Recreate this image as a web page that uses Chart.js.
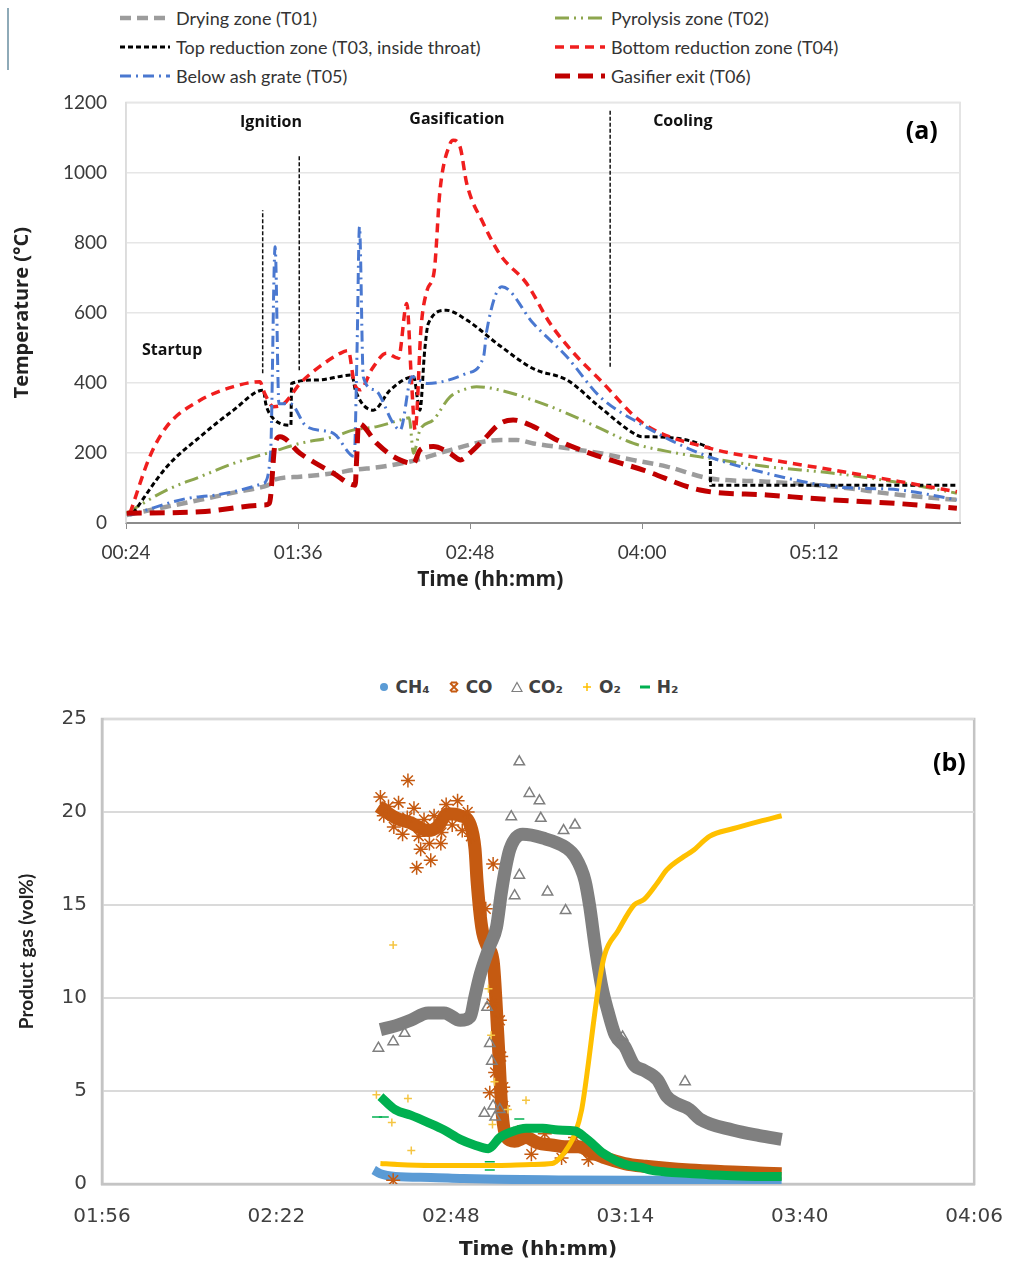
<!DOCTYPE html>
<html lang="en">
<head>
<meta charset="UTF-8" />
<title>Gasifier temperatures and product gas</title>
<script src="https://cdn.jsdelivr.net/npm/chart.js"></script>
<style>
  body { margin: 0; background: #fff; font-family: 'Lato', sans-serif; }
  #page { position: relative; width: 1024px; height: 1268px; overflow: hidden; background: #fff; }
  canvas { position: absolute; left: 0; }
  #legendA { position: absolute; left: 118px; top: 3px; display: grid; grid-template-columns: 435px auto; grid-auto-rows: 29px; }
  #legendA .item { display: flex; align-items: center; font-size: 18px; color: #333; white-space: nowrap; }
  #legendA svg { margin-right: 4px; }
  #legendB { position: absolute; left: 0; width: 1058px; top: 676px; height: 22px; display: flex; justify-content: center; align-items: center; }
  #legendB .item { display: flex; align-items: center; font: bold 17px 'DejaVu Sans', sans-serif; color: #404040; margin: 0 9px; }
  #legendB svg { margin-right: 6px; }
  #edge { position: absolute; left: 7px; top: 8px; width: 1.5px; height: 62px; background: #8eaab8; }
</style>
</head>
<body>
<div id="page">
  <div id="edge"></div>
  <div id="legendA"></div>
  <canvas id="chartA" width="1000" height="538" style="top:72px"></canvas>
  <div id="legendB"></div>
  <canvas id="chartB" width="1024" height="618" style="top:650px"></canvas>
</div>

<script>
  // ---------- (a) temperatures, time in minutes ----------
  const tickLabelsA = ['00:24', '01:36', '02:48', '04:00', '05:12'];
  const seriesNamesA = ['Drying zone (T01)', 'Pyrolysis zone (T02)', 'Top reduction zone (T03, inside throat)',
    'Bottom reduction zone (T04)', 'Below ash grate (T05)', 'Gasifier exit (T06)'];

  const t01Min  = [24.3, 40, 55, 70, 81.5, 84, 86, 96.8, 110.8, 119, 131.7, 145.7, 159.6, 173.6, 181, 187.5, 194.5, 208, 222.4, 236, 250.3, 268.5, 292.2, 320, 348, 371.7];
  const t01Temp = [23, 45, 66, 88, 104, 110, 123, 132, 142, 151, 161, 180, 208, 232, 237, 237, 227, 214, 199, 180, 161, 127, 118, 104, 80, 66];

  const t02Min  = [24.3, 41, 55, 69, 83, 86, 96.8, 110.8, 119, 129, 138.7, 142.5, 144.3, 147, 152.6, 159.6, 166, 170.7, 180.6, 194.5, 208.5, 222.4, 236.4, 250, 264, 292, 320, 348, 371.7];
  const t02Temp = [28, 94, 132, 170, 199, 205, 227, 246, 265, 275, 294, 300, 199, 265, 294, 360, 382, 389, 379, 350, 313, 270, 227, 205, 189, 161, 142, 115, 85];

  const t03Min  = [27, 41, 55, 69, 81.5, 82.5, 84, 93, 93.3, 104, 118.5, 120, 127.5, 134.5, 144.3, 147, 149, 150.5, 158, 166.6, 180.6, 194.5, 208.5, 222.4, 236.4, 240, 268.5, 268.6, 371.7];
  const t03Temp = [28, 160, 246, 322, 379, 340, 313, 279, 398, 408, 422, 379, 322, 379, 417, 322, 493, 569, 607, 579, 505, 440, 408, 330, 256, 246, 213, 108, 108];

  const t04Min  = [25.7, 34, 41, 55, 69, 80, 82, 85.7, 90, 96.8, 105, 113.6, 117, 119.5, 122, 127, 133, 138, 141.5, 143.5, 145, 147.5, 150, 153, 155.4, 159.6, 161, 163.8, 166.6, 173.6, 180.6, 191.7, 201.5, 212, 222.4, 240.5, 268.5, 294, 320, 348, 371.7];
  const t04Temp = [28, 190, 275, 350, 389, 403, 370, 332, 340, 398, 446, 484, 492, 400, 380, 440, 484, 470, 626, 400, 265, 560, 664, 720, 949, 1082, 1092, 1073, 968, 854, 765, 683, 569, 480, 408, 284, 213, 180, 151, 118, 89];

  const t05Min  = [25.7, 55, 81.5, 84.5, 86.4, 88, 92.6, 99.6, 110.8, 119.5, 120.7, 121.7, 123.3, 128, 135.9, 138.7, 143.6, 150.2, 166.6, 173.6, 175, 181.3, 194.5, 208.5, 222.4, 239, 264, 292, 320, 348, 371.7];
  const t05Temp = [23, 75, 113, 200, 788, 340, 341, 275, 256, 190, 500, 845, 417, 380, 284, 265, 417, 398, 427, 474, 550, 674, 569, 474, 360, 284, 199, 142, 104, 94, 66];

  const t06Min  = [24.3, 55, 81.5, 84, 86.4, 88.5, 96.8, 110.8, 119.9, 120.5, 121.3, 129, 136, 144.3, 147, 152.6, 159.6, 164, 168, 173.6, 180.6, 186, 194.5, 204.3, 222.4, 240.5, 264.2, 292.2, 320, 348, 371.7];
  const t06Temp = [28, 32, 51, 56, 227, 246, 199, 142, 108, 180, 284, 227, 189, 170, 208, 218, 199, 180, 200, 237, 284, 294, 275, 237, 189, 151, 94, 80, 66, 55, 42];

  // phase boundaries drawn as dashed verticals
  const boundaryMin  = [81.2, 96.5, 226.6];
  const boundaryLow  = [427, 436, 446];
  const boundaryHigh = [892, 1049, 1177];
  const phaseNames = ['Startup', 'Ignition', 'Gasification', 'Cooling'];

  // ---------- (b) product gas, time in minutes ----------
  const tickLabelsB = ['01:56', '02:22', '02:48', '03:14', '03:40', '04:06'];
  const gasNames = ['CH\u2084', 'CO', 'CO\u2082', 'O\u2082', 'H\u2082'];

  const ch4Min = [156.5, 157.5, 159.7, 165, 169.4, 175, 184.1, 195, 203.6, 210, 217.3];
  const ch4Pct = [0.75, 0.55, 0.4, 0.35, 0.3, 0.25, 0.22, 0.2, 0.2, 0.15, 0.12];

  const coMin = [157.2, 159.7, 162.1, 164.6, 166, 167.5, 169.4, 170.9, 171.6, 171.9, 172.6, 173.4, 174.3, 175, 175.6, 176.3, 177.5, 179.2, 181, 183, 185, 187, 189, 191, 193.9, 197, 203.6, 210, 217.3];
  const coPct = [20.3, 19.7, 19.4, 19.0, 19.2, 19.9, 19.8, 19.3, 18.0, 16.3, 13.8, 12.8, 12.0, 8.0, 4.0, 2.5, 2.3, 2.5, 2.2, 2.1, 2.0, 2.0, 1.7, 1.4, 1.1, 0.95, 0.75, 0.65, 0.55];
  const coLooseMin = [161.6, 162.9, 165, 163.5, 166.5, 174.3, 173.2, 174.1, 175.3, 175.5, 175.8, 173.8, 175.8, 174.6, 159.4,
    157.5, 158, 158.7, 159.5, 160.2, 160.8, 161.5, 162.5, 163.2, 164, 164.8, 165.5, 166.6, 167.3, 168.2, 169, 169.7, 170.5, 171,
    178, 180, 182, 184.5, 186.5, 188.5];
  const coLoosePct = [21.7, 17.0, 17.4, 18.0, 18.3, 17.2, 14.8, 9.7, 8.8, 6.85, 5.2, 4.9, 4.2, 6.0, 0.2,
    20.8, 19.8, 20.3, 19.2, 20.5, 18.8, 19.7, 20.2, 18.7, 19.6, 18.3, 19.8, 18.9, 20.4, 19.3, 20.6, 19.0, 20.0, 18.7,
    2.8, 1.6, 2.7, 1.4, 2.5, 1.3];

  const co2Min = [157.5, 159.7, 162, 164.6, 167, 169.4, 170.9, 171.6, 172.4, 173.8, 174.8, 175.5, 176, 176.8, 178.7, 181.7, 185.1, 186.5, 188, 188.7, 189.5, 190.5, 191.4, 192.5, 193.9, 195.3, 196.8, 198.8, 200.2, 203.6, 205.1, 210, 214, 217.3];
  const co2Pct = [8.3, 8.5, 8.8, 9.2, 9.2, 8.8, 9.0, 10.1, 11.3, 12.8, 13.8, 15.6, 16.7, 18.0, 18.8, 18.6, 18.1, 17.6, 16.3, 14.9, 12.8, 10.6, 9.3, 8.0, 7.4, 6.4, 6.1, 5.6, 4.7, 4.0, 3.5, 2.9, 2.6, 2.4];
  const co2LooseMin = [157.2, 159.4, 161.1, 178.2, 179.7, 181.2, 177, 181.4, 186.5, 184.8, 178.2, 177.5, 182.4, 185.1, 173.4, 173.8, 174.1, 174.3, 175.3, 193.6, 202.9, 173, 174.6];
  const co2LoosePct = [7.3, 7.65, 8.1, 22.7, 21.0, 20.6, 19.75, 19.66, 19.3, 19.0, 16.6, 15.5, 15.7, 14.7, 9.5, 7.56, 6.6, 4.2, 4.0, 7.9, 5.5, 3.8, 3.6];

  const o2Min = [157.5, 160, 165, 169.4, 175, 180, 183.1, 184.5, 185.5, 186.5, 187.5, 188.5, 189.2, 190, 190.9, 192.9, 195.3, 196.8, 198.8, 200.2, 202.7, 204, 206.6, 210, 214, 217.3];
  const o2Pct = [1.1, 1.05, 1.0, 1.0, 1.0, 1.05, 1.1, 1.5, 2.0, 2.7, 4.0, 6.5, 8.5, 10.6, 12.3, 13.6, 15.0, 15.3, 16.2, 16.9, 17.6, 17.9, 18.7, 19.1, 19.5, 19.8];
  const o2LooseMin = [159.4, 156.9, 159.2, 161.6, 162.1, 173.6, 174.0, 174.5, 174.2, 179.2, 176.5];
  const o2LoosePct = [12.85, 4.8, 3.3, 4.6, 1.8, 10.5, 8.0, 5.5, 3.2, 4.5, 4.0];

  const h2Min = [157.5, 159.7, 162, 164.6, 167, 169.4, 171.5, 173.6, 175.3, 177, 179.2, 181.7, 184, 186.5, 188, 189, 190.5, 191.4, 192.9, 194.5, 196.3, 197.8, 200, 203.6, 207.6, 212, 217.3];
  const h2Pct = [4.7, 4.0, 3.7, 3.3, 2.9, 2.4, 2.1, 1.9, 2.5, 2.8, 3.0, 3.0, 2.9, 2.85, 2.5, 2.2, 1.7, 1.5, 1.2, 1.0, 0.9, 0.75, 0.65, 0.57, 0.48, 0.42, 0.4];
  const h2LooseMin = [157, 158, 173.8, 173.8, 178.2];
  const h2LoosePct = [3.6, 3.6, 0.75, 1.2, 3.5];

  // ---------- helpers ----------
  const toMin = s => { const [h, m] = s.split(':').map(Number); return h * 60 + m; };
  const pts = (xs, ys) => xs.map((x, i) => ({ x: x, y: ys[i] }));

  const styleA = [
    { color: '#9c9c9c', width: 4.5, dash: [11, 6] },
    { color: '#8da64e', width: 3, dash: [14, 5, 2, 5, 2, 5] },
    { color: '#000000', width: 3, dash: [5, 3] },
    { color: '#f01e1e', width: 3.5, dash: [9, 6] },
    { color: '#4a78d0', width: 3, dash: [11, 5, 2, 5] },
    { color: '#c00000', width: 5, dash: [15, 8] }
  ];
  const gasColors = ['#5b9bd5', '#c55a11', '#7f7f7f', '#ffc000', '#00b050'];

  // text drawn at data positions (phase names, panel letters, titles)
  const notesPlugin = {
    id: 'notes',
    afterDraw(chart, args, opts) {
      const { ctx, scales } = chart;
      ctx.save();
      ctx.textAlign = 'center';
      ctx.textBaseline = 'middle';
      (opts.items || []).forEach(it => {
        ctx.font = it.font;
        ctx.fillStyle = it.color || '#111';
        ctx.fillText(it.text, scales.x.getPixelForValue(it.x), scales.y.getPixelForValue(it.y));
      });
      ctx.restore();
    }
  };

  const framePlugin = {
    id: 'frame',
    beforeDraw(chart, args, opts) {
      const { ctx, chartArea: a } = chart;
      ctx.save();
      ctx.strokeStyle = opts.color;
      ctx.lineWidth = opts.width;
      ctx.strokeRect(a.left, a.top, a.right - a.left, a.bottom - a.top);
      ctx.restore();
    }
  };

  // ---------- legend (a) ----------
  const legendA = document.getElementById('legendA');
  seriesNamesA.forEach((name, i) => {
    const s = styleA[i];
    const div = document.createElement('div');
    div.className = 'item';
    div.innerHTML = `<svg width="54" height="12"><line x1="2" y1="6" x2="52" y2="6" stroke="${s.color}"
      stroke-width="${s.width}" stroke-dasharray="${s.dash.join(' ')}"/></svg><span>${name}</span>`;
    legendA.appendChild(div);
  });

  // ---------- legend (b) ----------
  const markerSvg = [
    `<svg width="10" height="10"><circle cx="5" cy="5" r="4" fill="${gasColors[0]}"/></svg>`,
    `<svg width="12" height="12"><path d="M2 2L10 10M10 2L2 10M3 1.5H9M3 10.5H9" stroke="${gasColors[1]}" stroke-width="1.8"/></svg>`,
    `<svg width="12" height="12"><polygon points="6,1.5 11,10.5 1,10.5" fill="none" stroke="${gasColors[2]}" stroke-width="1.2"/></svg>`,
    `<svg width="12" height="12"><path d="M6 2V10M2 6H10" stroke="${gasColors[3]}" stroke-width="1.5"/></svg>`,
    `<svg width="12" height="12"><rect x="1" y="4.5" width="10" height="3" fill="${gasColors[4]}"/></svg>`
  ];
  const legendB = document.getElementById('legendB');
  gasNames.forEach((name, i) => {
    const div = document.createElement('div');
    div.className = 'item';
    div.innerHTML = markerSvg[i] + `<span>${name}</span>`;
    legendB.appendChild(div);
  });

  // ---------- chart (a) ----------
  const seriesA = [[t01Min, t01Temp], [t02Min, t02Temp], [t03Min, t03Temp], [t04Min, t04Temp], [t05Min, t05Temp], [t06Min, t06Temp]];
  const tickMinA = tickLabelsA.map(toMin);

  const datasetsA = seriesA.map(([xs, ys], i) => ({
    label: seriesNamesA[i],
    data: pts(xs, ys),
    showLine: true,
    borderColor: styleA[i].color,
    borderWidth: styleA[i].width,
    borderDash: styleA[i].dash,
    pointRadius: 0,
    cubicInterpolationMode: 'monotone',
    order: 6 - i
  }));
  boundaryMin.forEach((m, i) => {
    datasetsA.push({
      label: 'boundary',
      data: pts([m, m], [boundaryLow[i], boundaryHigh[i]]),
      showLine: true,
      borderColor: '#111',
      borderWidth: 1.5,
      borderDash: [4, 2],
      pointRadius: 0,
      order: 20
    });
  });

  new Chart(document.getElementById('chartA'), {
    type: 'scatter',
    data: { datasets: datasetsA },
    plugins: [framePlugin, notesPlugin],
    options: {
      responsive: false,
      animation: false,
      devicePixelRatio: 1,
      layout: { padding: { top: 30, right: 40, bottom: 7, left: 0 } },
      plugins: {
        legend: { display: false },
        tooltip: { enabled: false },
        frame: { color: '#dcdcdc', width: 1.5 },
        notes: {
          items: [
            { text: phaseNames[0], x: 43.3, y: 493, font: 'bold 16px "Open Sans"' },
            { text: phaseNames[1], x: 84.7, y: 1143, font: 'bold 16px "Open Sans"' },
            { text: phaseNames[2], x: 162.5, y: 1152, font: 'bold 16px "Open Sans"' },
            { text: phaseNames[3], x: 257, y: 1146, font: 'bold 16px "Open Sans"' },
            { text: '(a)', x: 357, y: 1117, font: 'bold 25px "Open Sans"', color: '#000' },
            { text: 'Time (hh:mm)', x: 176.4, y: -162, font: 'bold 21px "Open Sans"', color: '#222' }
          ]
        }
      },
      scales: {
        x: {
          type: 'linear',
          min: 24,
          max: 373,
          afterBuildTicks: s => { s.ticks = tickMinA.map(v => ({ value: v })); },
          afterFit: s => { s.height = 80; },
          ticks: {
            callback: (v, i) => tickLabelsA[i],
            font: { family: 'Lato', size: 19 },
            color: '#3a3a3a',
            padding: 12,
            maxRotation: 0,
            autoSkip: false
          },
          grid: { drawOnChartArea: false, drawTicks: true, tickLength: 6, color: '#8c8c8c' },
          border: { color: '#8c8c8c', width: 2 }
        },
        y: {
          min: 0,
          max: 1200,
          afterFit: s => { s.width = 126; },
          ticks: { stepSize: 200, callback: v => String(v), font: { family: 'Lato', size: 19 }, color: '#3a3a3a', padding: 19 },
          grid: { color: '#e6e6e6', lineWidth: 1.5, drawTicks: false },
          border: { color: '#dcdcdc', width: 1.5 },
          title: {
            display: true,
            text: 'Temperature (\u00b0C)',
            font: { family: 'Open Sans', size: 20, weight: 'bold' },
            color: '#222',
            padding: { top: 10, bottom: 0 }
          }
        }
      }
    }
  });

  // ---------- chart (b) ----------
  const tickMinB = tickLabelsB.map(toMin);
  const band = (label, xs, ys, color, width, order) => ({
    label, data: pts(xs, ys), showLine: true, borderColor: color, borderWidth: width,
    pointRadius: 0, cubicInterpolationMode: 'monotone', order
  });
  const loose = (label, xs, ys, style, color, radius, order, fill) => ({
    label, data: pts(xs, ys), showLine: false, pointStyle: style, pointRadius: radius,
    borderColor: color, backgroundColor: fill || color, pointBorderWidth: 1.5, order
  });

  new Chart(document.getElementById('chartB'), {
    type: 'scatter',
    data: {
      datasets: [
        band(gasNames[0], ch4Min, ch4Pct, gasColors[0], 9, 50),
        band(gasNames[1], coMin, coPct, gasColors[1], 13, 40),
        loose(gasNames[1] + ' pts', coLooseMin, coLoosePct, 'star', gasColors[1], 7, 39),
        band(gasNames[2], co2Min, co2Pct, gasColors[2], 13, 30),
        loose(gasNames[2] + ' pts', co2LooseMin, co2LoosePct, 'triangle', gasColors[2], 6, 29, 'rgba(255,255,255,0)'),
        band(gasNames[3], o2Min, o2Pct, gasColors[3], 5, 20),
        loose(gasNames[3] + ' pts', o2LooseMin, o2LoosePct, 'cross', '#f5c542', 4, 19),
        band(gasNames[4], h2Min, h2Pct, gasColors[4], 9, 10),
        loose(gasNames[4] + ' pts', h2LooseMin, h2LoosePct, 'line', gasColors[4], 5, 9)
      ]
    },
    plugins: [framePlugin, notesPlugin],
    options: {
      responsive: false,
      animation: false,
      devicePixelRatio: 1,
      layout: { padding: { top: 69, right: 35, bottom: 0, left: 0 } },
      plugins: {
        legend: { display: false },
        tooltip: { enabled: false },
        frame: { color: '#c4c4c4', width: 2.5 },
        notes: {
          items: [
            { text: '(b)', x: 242.3, y: 22.6, font: 'bold 25px "Open Sans"', color: '#000' }
          ]
        }
      },
      scales: {
        x: {
          type: 'linear',
          min: 116,
          max: 246,
          afterBuildTicks: s => { s.ticks = tickMinB.map(v => ({ value: v })); },
          afterFit: s => { s.height = 84; },
          ticks: {
            callback: (v, i) => tickLabelsB[i],
            font: { family: 'DejaVu Sans', size: 20 },
            color: '#404040',
            padding: 21,
            maxRotation: 0,
            autoSkip: false
          },
          grid: { drawOnChartArea: false, drawTicks: false },
          border: { color: '#c4c4c4', width: 2.5 },
          title: {
            display: true,
            text: 'Time (hh:mm)',
            font: { family: 'DejaVu Sans', size: 20, weight: 'bold' },
            color: '#222',
            padding: { top: 0, bottom: 6 }
          }
        },
        y: {
          min: 0,
          max: 25,
          afterFit: s => { s.width = 102; },
          ticks: { stepSize: 5, font: { family: 'DejaVu Sans', size: 20 }, color: '#404040', padding: 15 },
          grid: { color: '#dadada', lineWidth: 2, drawTicks: false },
          border: { color: '#c4c4c4', width: 2.5 },
          title: {
            display: true,
            text: 'Product gas (vol%)',
            font: { family: 'Lato', size: 19, weight: 'bold' },
            color: '#222',
            padding: { top: 15, bottom: 0 }
          }
        }
      }
    }
  });
</script>
</body>
</html>
